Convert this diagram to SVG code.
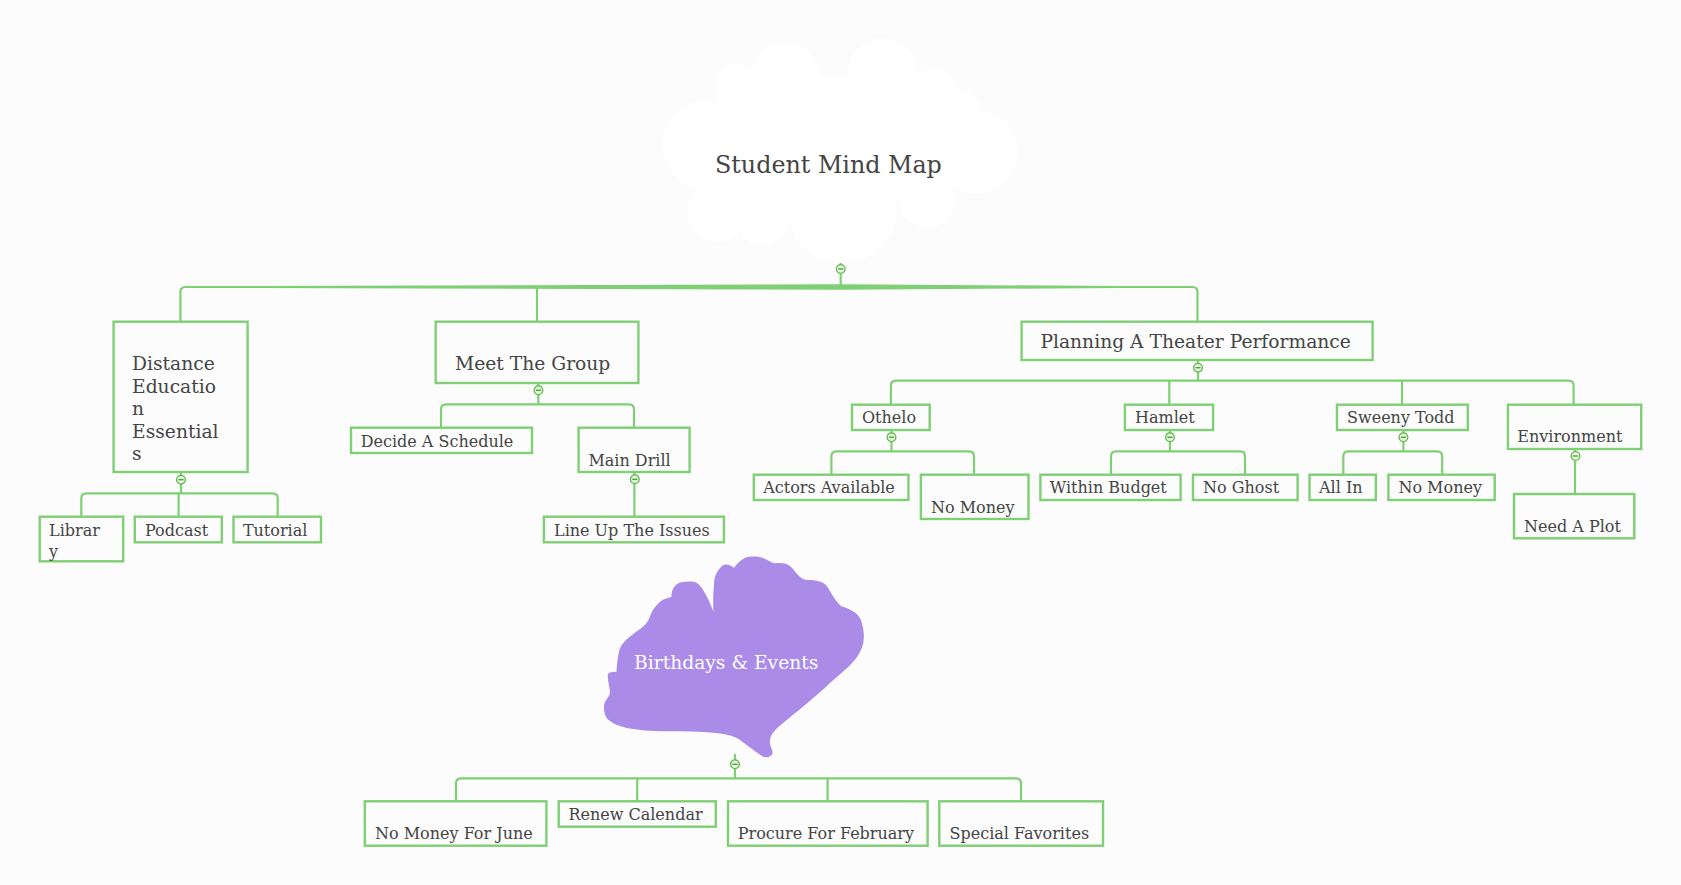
<svg xmlns="http://www.w3.org/2000/svg" width="1681" height="885" viewBox="0 0 1681 885">
<defs>
<style>
.bg{fill:#fcfcfc}
.box{fill:#fcfcfc;stroke:#7fcf74;stroke-width:2.4}
.t{font-family:"DejaVu Serif","Liberation Serif",serif;fill:#444444;font-size:16px}
.tl{font-family:"DejaVu Serif","Liberation Serif",serif;fill:#444444;font-size:18.7px}
.c{fill:none;stroke:#7fcf74;stroke-width:2.2;stroke-linejoin:round}
.col{fill:#eaf6e4;stroke:#5fbb4c;stroke-width:1.3}
.minus{stroke:#4fa83c;stroke-width:1.4}
</style>
<g id="collapse">
<circle class="col" cx="0" cy="0" r="4.4"/>
<line class="minus" x1="-2.6" y1="0" x2="2.6" y2="0"/>
</g>
</defs>
<rect class="bg" x="0" y="0" width="1681" height="885"/>

<g id="connectors">
<path class="c" d="M840.7,262 V287"/>
<path class="c" d="M180.4,321.7 V292 Q180.4,287 185.4,287 H1192.5 Q1197.5,287 1197.5,292 V321.7 M537,287 V321.7"/>
<polygon fill="#7fcf74" points="260,286 840.7,284.3 1120,286 1120,288 840.7,289.7 260,288"/>
<path class="c" d="M181,472 V493.3 M81.3,516.7 V498.3 Q81.3,493.3 86.3,493.3 H272.7 Q277.7,493.3 277.7,498.3 V516.7 M178.6,493.3 V516.7"/>
<path class="c" d="M538.4,383 V404.3 M441,427.7 V409.3 Q441,404.3 446,404.3 H629 Q634,404.3 634,409.3 V427.7"/>
<path class="c" d="M634.4,472 V516.7"/>
<path class="c" d="M1198,360 V380.7 M890.9,404.7 V385.7 Q890.9,380.7 895.9,380.7 H1568.6 Q1573.6,380.7 1573.6,385.7 V404.7 M1169.3,380.7 V404.7 M1402,380.7 V404.7"/>
<path class="c" d="M891.5,430 V451.3 M831.4,474.7 V456.3 Q831.4,451.3 836.4,451.3 H969 Q974,451.3 974,456.3 V474.7"/>
<path class="c" d="M1170,430 V451.3 M1111,474.7 V456.3 Q1111,451.3 1116,451.3 H1240 Q1245,451.3 1245,456.3 V474.7"/>
<path class="c" d="M1403.4,430 V451.3 M1343.3,474.7 V456.3 Q1343.3,451.3 1348.3,451.3 H1437.2 Q1442.2,451.3 1442.2,456.3 V474.7"/>
<path class="c" d="M1575,449 V494"/>
<path class="c" d="M735,754 V778.3 M456,801.3 V783.3 Q456,778.3 461,778.3 H1016 Q1021,778.3 1021,783.3 V801.3 M637.2,778.3 V801.3 M827.6,778.3 V801.3"/>
<use href="#collapse" x="840.7" y="269"/>
<use href="#collapse" x="181" y="479.7"/>
<use href="#collapse" x="538.4" y="390.3"/>
<use href="#collapse" x="634.8" y="479.3"/>
<use href="#collapse" x="1198" y="367.7"/>
<use href="#collapse" x="891.5" y="437.3"/>
<use href="#collapse" x="1170" y="437.3"/>
<use href="#collapse" x="1403.4" y="437.3"/>
<use href="#collapse" x="1575.5" y="456"/>
<use href="#collapse" x="735" y="764.3"/>
</g>

<g id="root">
<g fill="#ffffff">
<circle cx="708" cy="145" r="45"/>
<circle cx="736" cy="86" r="22"/>
<circle cx="785" cy="78" r="35"/>
<circle cx="883" cy="73" r="35"/>
<circle cx="933" cy="93" r="25"/>
<circle cx="960" cy="110" r="20"/>
<circle cx="976" cy="152" r="42"/>
<circle cx="927" cy="200" r="28"/>
<circle cx="842" cy="208" r="55"/>
<circle cx="763" cy="218" r="27"/>
<circle cx="718" cy="212" r="30"/>
<polygon points="708,145 736,86 785,78 883,73 933,93 960,110 976,152 927,200 842,208 763,218 718,212"/>
</g>
<text class="t" x="715" y="172.7" style="font-size:23.8px">Student Mind Map</text>
</g>

<g id="distance">
<rect class="box" x="113.6" y="321.7" width="134" height="150.3"/>
<text class="tl" x="132" y="370">Distance</text>
<text class="tl" x="132" y="392.5">Educatio</text>
<text class="tl" x="132" y="415">n</text>
<text class="tl" x="132" y="437.5">Essential</text>
<text class="tl" x="132" y="460">s</text>
</g>
<g id="meet">
<rect class="box" x="435.7" y="321.7" width="202.7" height="61.3"/>
<text class="tl" x="455" y="370">Meet The Group</text>
</g>
<g id="planning">
<rect class="box" x="1021.6" y="321.7" width="351" height="38.3"/>
<text class="tl" x="1040.4" y="347.7">Planning A Theater Performance</text>
</g>

<g id="decide"><rect class="box" x="351" y="427.7" width="181" height="25.3"/><text class="t" x="360.7" y="446.5">Decide A Schedule</text></g>
<g id="maindrill"><rect class="box" x="578.6" y="427.7" width="111" height="44.3"/><text class="t" x="588.4" y="466.3">Main Drill</text></g>
<g id="lineup"><rect class="box" x="543.9" y="516.7" width="180" height="25.6"/><text class="t" x="554" y="535.7">Line Up The Issues</text></g>
<g id="library"><rect class="box" x="39.7" y="516.7" width="83.5" height="44.6"/><text class="t" x="49" y="535.7">Librar</text><text class="t" x="49" y="556.5">y</text></g>
<g id="podcast"><rect class="box" x="134.8" y="516.7" width="87" height="25.6"/><text class="t" x="145" y="535.7">Podcast</text></g>
<g id="tutorial"><rect class="box" x="233.5" y="516.7" width="87.5" height="25.6"/><text class="t" x="242.9" y="535.7">Tutorial</text></g>

<g id="othelo"><rect class="box" x="852" y="404.7" width="77.7" height="25.3"/><text class="t" x="862" y="422.5">Othelo</text></g>
<g id="hamlet"><rect class="box" x="1124.9" y="404.7" width="88.2" height="25.3"/><text class="t" x="1135" y="422.5">Hamlet</text></g>
<g id="sweeny"><rect class="box" x="1337" y="404.7" width="130.8" height="25.3"/><text class="t" x="1347" y="422.5">Sweeny Todd</text></g>
<g id="environment"><rect class="box" x="1507.9" y="404.7" width="133.3" height="44.3"/><text class="t" x="1517.3" y="442.3">Environment</text></g>
<g id="actors"><rect class="box" x="753.8" y="474.7" width="154.6" height="25.3"/><text class="t" x="763.2" y="493">Actors Available</text></g>
<g id="nomoney1"><rect class="box" x="920.9" y="474.7" width="107.6" height="44.3"/><text class="t" x="931" y="513">No Money</text></g>
<g id="budget"><rect class="box" x="1040.4" y="474.7" width="140.2" height="25.3"/><text class="t" x="1049.8" y="493">Within Budget</text></g>
<g id="noghost"><rect class="box" x="1193" y="474.7" width="104.6" height="25.3"/><text class="t" x="1203" y="493">No Ghost</text></g>
<g id="allin"><rect class="box" x="1309.5" y="474.7" width="66.3" height="25.3"/><text class="t" x="1319" y="493">All In</text></g>
<g id="nomoney2"><rect class="box" x="1388.4" y="474.7" width="106.3" height="25.3"/><text class="t" x="1398.4" y="493">No Money</text></g>
<g id="needplot"><rect class="box" x="1514" y="494" width="120.3" height="44.3"/><text class="t" x="1524" y="532.3">Need A Plot</text></g>

<g id="birthdays">
<path fill="#aa8be7" d="M749,556.7 C744,557 738,562 734,568 C730,564 724,563 721,567 C716,572 714,578 714,585 C713,595 713,604 713.5,611.7 C710,603 707,596 703,590 C700,584 696,581.5 690,581.5 C684,581.5 679,582 676,585 C672,589 671.4,593 671.4,597.3 C665,598 660,601 657,605 C652,610 651,614 649,619 C645,627 638,630 632,635 C624,641 620,646 619,652 C617,660 617,666 616.5,671.7 C613,672 609,672 608,674 C607,680 610,687 610,693 C609,698 604,700 604,707 C604,714 606,719 610,721 C616,726 628,729 645,730.5 C670,732 695,731 710,732.5 C725,734 733,735 740,740 C748,746 756,752 762,756 C766,758.5 772,757 772.5,753 C773,749 769,746 770,740 C771,733 777,728 782,724 C795,713 812,700 830,683 C845,670 855,662 860,652 C866,641 864,630 861,620 C857,612 850,609 841,606 C834,600 830,590 826,585 C820,580 812,580 806,580 C798,578 795,570 790,566 C785,562 778,563 774.5,563.3 C770,562 765,558 759,557 C756,556.5 752,556.5 749,556.7 Z"/>
<text class="tl" x="634" y="669" style="fill:#ffffff">Birthdays &amp; Events</text>
</g>
<g id="june"><rect class="box" x="364.8" y="801.3" width="181.6" height="44.4"/><text class="t" x="375" y="839">No Money For June</text></g>
<g id="renew"><rect class="box" x="558.7" y="801.3" width="157.1" height="25.4"/><text class="t" x="568.4" y="820">Renew Calendar</text></g>
<g id="procure"><rect class="box" x="728" y="801.3" width="199.6" height="44.4"/><text class="t" x="737.8" y="839">Procure For February</text></g>
<g id="special"><rect class="box" x="939.3" y="801.3" width="163.7" height="44.4"/><text class="t" x="949.5" y="839">Special Favorites</text></g>
</svg>
